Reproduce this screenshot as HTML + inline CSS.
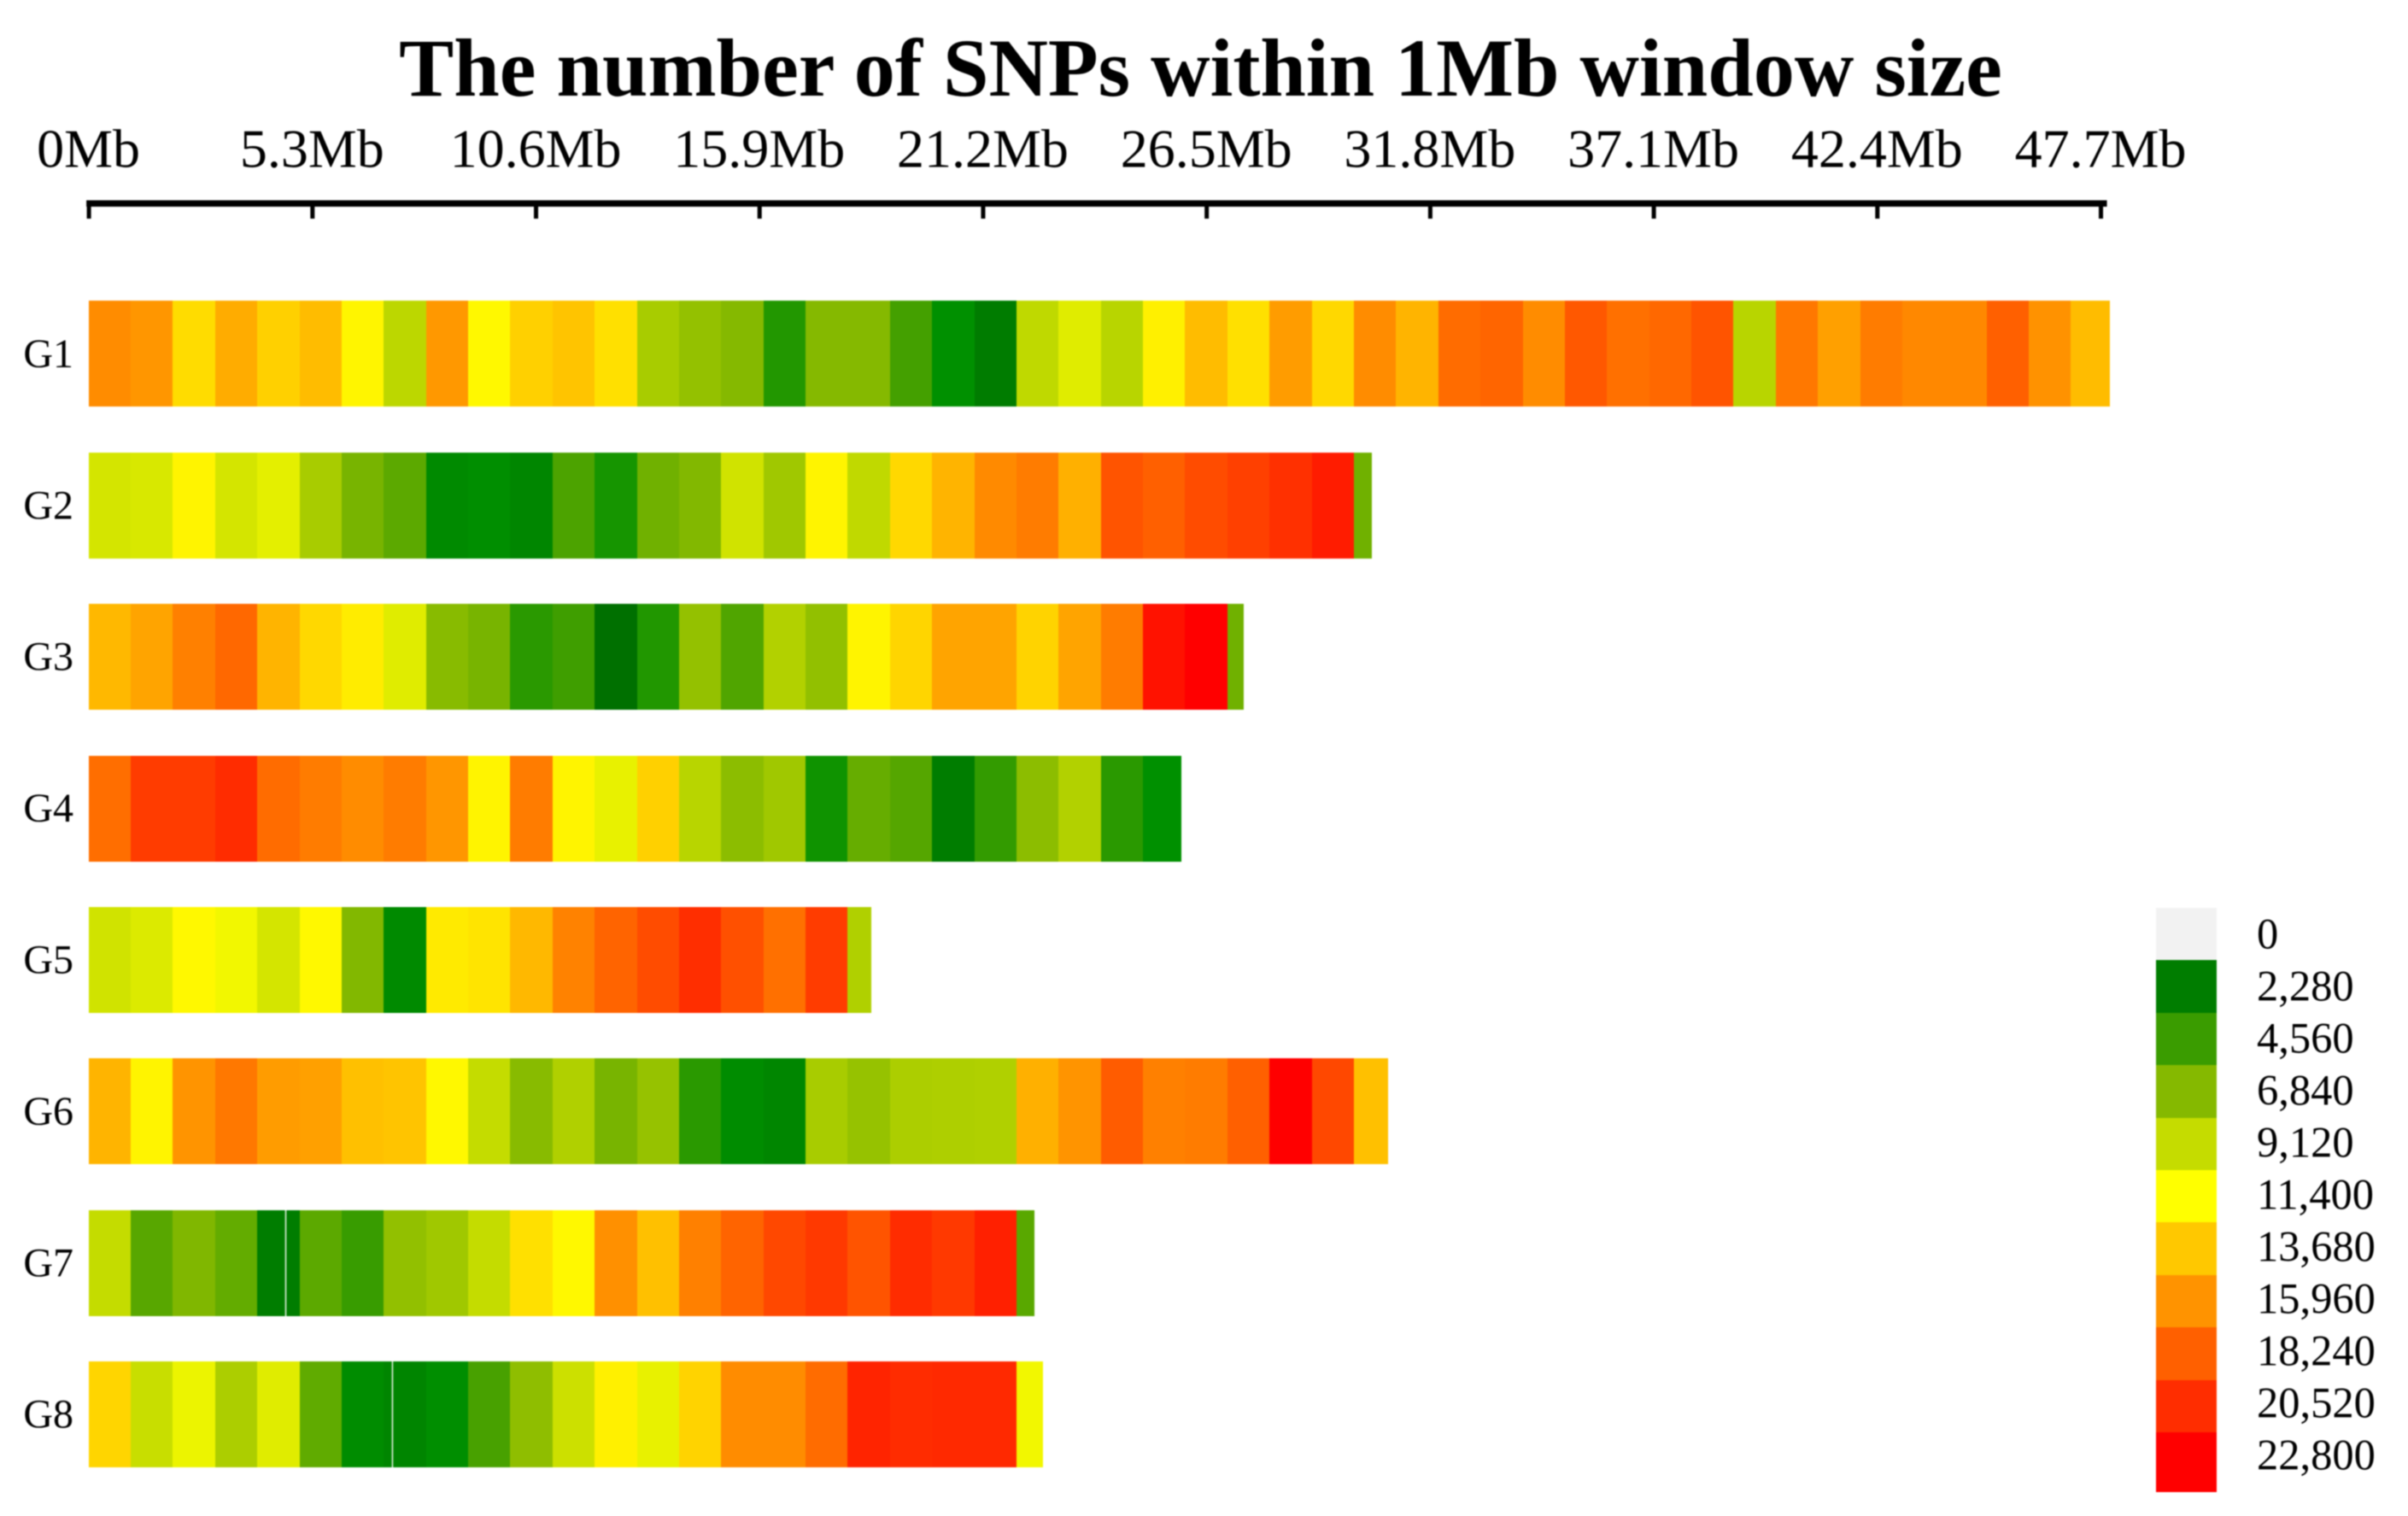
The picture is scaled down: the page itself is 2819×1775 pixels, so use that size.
<!DOCTYPE html>
<html lang="en">
<head>
<meta charset="utf-8">
<title>The number of SNPs within 1Mb window size</title>
<style>
  html, body { margin: 0; padding: 0; background: #ffffff; overflow: hidden; }
  #chart { display: block; width: 2819px; height: 1775px; background: #ffffff; filter: blur(0.7px); }
  text { font-family: "Liberation Serif", serif; fill: #000000; }
</style>
</head>
<body>
<svg id="chart" xmlns="http://www.w3.org/2000/svg" width="2819" height="1775" viewBox="0 0 2819 1775">
  <text id="title" x="1405.5" y="112" text-anchor="middle" font-size="96.2" font-weight="700">The number of SNPs within 1Mb window size</text>
  <g id="x-axis"></g>
  <g id="rows"></g>
  <g id="legend"></g>
</svg>
<script>
const chromosomes = ["G1", "G2", "G3", "G4", "G5", "G6", "G7", "G8"];
const chromLengthsMb = [47.92, 30.42, 27.38, 25.9, 18.56, 30.82, 22.42, 22.62];
const xTicksMb = [0, 5.3, 10.6, 15.9, 21.2, 26.5, 31.8, 37.1, 42.4, 47.7];
const legendValues = [0, 2280, 4560, 6840, 9120, 11400, 13680, 15960, 18240, 20520, 22800];
const colorDomain = [1800, 3000, 4560, 6840, 9120, 11400, 13680, 15960, 18240, 20520, 22800];
const colorRange = ["#007000", "#009000", "#3a9c00", "#85b900", "#c5dc00", "#ffff00", "#ffc800", "#ff9300", "#ff6000", "#ff2d00", "#ff0000"];

const snpsG1 = [16270, 15830, 12850, 14880, 13350, 14200, 11810, 8800, 15745, 11690, 13350, 13850, 12680, 8090, 7370, 6840, 3910, 6840, 6840, 4860, 3000, 2250, 8910, 10180, 8660, 12020, 14200, 12680, 15570, 13020, 16270, 14540, 17700, 18020, 16270, 18600, 17520, 17880, 18780, 8660, 17170, 15400, 16990, 16450, 16450, 18240, 16000, 14200];
const snpsG2 = [9710, 9870, 11850, 9710, 10340, 8090, 6450, 5590, 2775, 2940, 2630, 5100, 3590, 6200, 6750, 9550, 7800, 11850, 8940, 13020, 14540, 16360, 16990, 14710, 18780, 18240, 19130, 19670, 20380, 21380, 6200];
const snpsG3 = [14370, 15230, 16810, 17880, 14540, 13020, 12190, 10180, 6950, 6450, 4130, 4710, 1800, 3890, 7370, 5230, 8430, 7300, 11850, 13150, 15230, 15230, 13230, 15230, 16990, 21900, 22800, 6200];
const snpsG4 = [17610, 19850, 19850, 20570, 17700, 16990, 16270, 16990, 15830, 11850, 16990, 11850, 10500, 13350, 8660, 7090, 7800, 3400, 5890, 5370, 2280, 4370, 7090, 8430, 4130, 3000];
const snpsG5 = [9550, 10020, 11690, 10880, 9710, 11690, 6750, 2780, 12270, 12520, 14370, 16700, 18060, 19130, 20480, 18960, 17520, 19850, 8370];
const snpsG6 = [14540, 11850, 15920, 17170, 15570, 15400, 14020, 13850, 11690, 9090, 6950, 8370, 6450, 7440, 4130, 2850, 2630, 8090, 7440, 8230, 8300, 8370, 14710, 15920, 18420, 16810, 16990, 18240, 22800, 19300, 14020];
const snpsG7 = [9090, 5460, 6680, 5820, 2280, 5590, 4500, 7300, 7800, 9090, 12680, 11690, 16090, 14020, 16810, 18060, 19300, 19980, 18780, 20570, 19980, 21180, 5500];
const snpsG8 = [13150, 9240, 10670, 8230, 10180, 5720, 2850, 2570, 2925, 4980, 7190, 9390, 12020, 10500, 13230, 16270, 16270, 17700, 20970, 20570, 20700, 20700, 10890];
const snpsByChromosome = [snpsG1, snpsG2, snpsG3, snpsG4, snpsG5, snpsG6, snpsG7, snpsG8];
const gapChromosomes = ["G7", "G8"];
const gapPositionsMb = [4.66, 7.19];

const SVG_NS = "http://www.w3.org/2000/svg";
const WINDOW_MB = 1;

function xScale(mb) { return 103.6 + 49.38 * mb; }
function rowTop(i) { return 352.4 + 177.4 * i; }
const ROW_HEIGHT = 124;

function hexToRgb(h) {
  return [parseInt(h.slice(1, 3), 16), parseInt(h.slice(3, 5), 16), parseInt(h.slice(5, 7), 16)];
}
function colorScale(v) {
  if (v <= 0) return "#f2f2f2";
  if (v <= colorDomain[0]) return colorRange[0];
  for (let i = 1; i < colorDomain.length; i++) {
    if (v <= colorDomain[i]) {
      const t = (v - colorDomain[i - 1]) / (colorDomain[i] - colorDomain[i - 1]);
      const a = hexToRgb(colorRange[i - 1]);
      const b = hexToRgb(colorRange[i]);
      const c = a.map((p, k) => Math.round(p + (b[k] - p) * t));
      return "rgb(" + c.join(",") + ")";
    }
  }
  return colorRange[colorRange.length - 1];
}
function make(tag, parent) {
  const el = document.createElementNS(SVG_NS, tag);
  parent.appendChild(el);
  return el;
}

// X axis
const axisGroup = document.getElementById("x-axis");
const axisLine = make("rect", axisGroup);


axisLine.setAttribute("x", xScale(0) - 2.5);
axisLine.setAttribute("y", 234.5);
axisLine.setAttribute("width", xScale(xTicksMb[xTicksMb.length - 1]) - xScale(0) + 10);
axisLine.setAttribute("height", 7.5);
axisLine.setAttribute("fill", "#000");

xTicksMb.forEach(function (mb) {
  const tick = make("rect", axisGroup);
  
  
  tick.setAttribute("x", xScale(mb) - 2);
  tick.setAttribute("y", 236);
  tick.setAttribute("width", 5);
  tick.setAttribute("height", 20);
  tick.setAttribute("fill", "#000");

  const label = make("text", axisGroup);
  
  
  label.setAttribute("x", xScale(mb));
  label.setAttribute("y", 195.5);
  label.setAttribute("text-anchor", "middle");
  label.setAttribute("font-size", 64);
  label.textContent = mb + "Mb";
});

// Chromosome rows
const rowsGroup = document.getElementById("rows");
chromosomes.forEach(function (name, r) {
  const row = make("g", rowsGroup);
  
  

  const rowLabel = make("text", row);
  
  
  rowLabel.setAttribute("x", 86);
  rowLabel.setAttribute("y", rowTop(r) + ROW_HEIGHT / 2 + 15.5);
  rowLabel.setAttribute("text-anchor", "end");
  rowLabel.setAttribute("font-size", 48);
  rowLabel.textContent = name;

  snpsByChromosome[r].forEach(function (value, i) {
    const startMb = i * WINDOW_MB;
    const endMb = Math.min((i + 1) * WINDOW_MB, chromLengthsMb[r]);
    const x0 = Math.round(xScale(startMb));
    const x1 = Math.round(xScale(endMb));
    const cell = make("rect", row);
    
    
    cell.setAttribute("x", x0);
    cell.setAttribute("y", Math.round(rowTop(r)));
    cell.setAttribute("width", x1 - x0);
    cell.setAttribute("height", ROW_HEIGHT);
    cell.setAttribute("fill", colorScale(value));
    cell.setAttribute("shape-rendering", "crispEdges");
  });
});

// Thin unsampled gaps inside the bars
gapChromosomes.forEach(function (name, g) {
  const r = chromosomes.indexOf(name);
  const gap = make("rect", rowsGroup);
  
  
  gap.setAttribute("x", xScale(gapPositionsMb[g]));
  gap.setAttribute("y", Math.round(rowTop(r)));
  gap.setAttribute("width", 1.6);
  gap.setAttribute("height", ROW_HEIGHT);
  gap.setAttribute("fill", "#dfeedd");
});

// Legend
const legendGroup = document.getElementById("legend");
legendValues.forEach(function (value, i) {
  const top = 1063 + i * 61.4;
  const isLast = i === legendValues.length - 1;
  const swatch = make("rect", legendGroup);
  
  
  swatch.setAttribute("x", 2524);
  swatch.setAttribute("y", Math.round(top));
  swatch.setAttribute("width", 71);
  swatch.setAttribute("height", isLast ? 70 : Math.round(top + 61.4) - Math.round(top));
  swatch.setAttribute("fill", colorScale(value));
  swatch.setAttribute("shape-rendering", "crispEdges");

  const entry = make("text", legendGroup);
  
  
  entry.setAttribute("x", 2642);
  entry.setAttribute("y", 1110.5 + i * 61);
  entry.setAttribute("font-size", 50.5);
  entry.textContent = value.toLocaleString("en-US");
});
</script>
</body>
</html>
